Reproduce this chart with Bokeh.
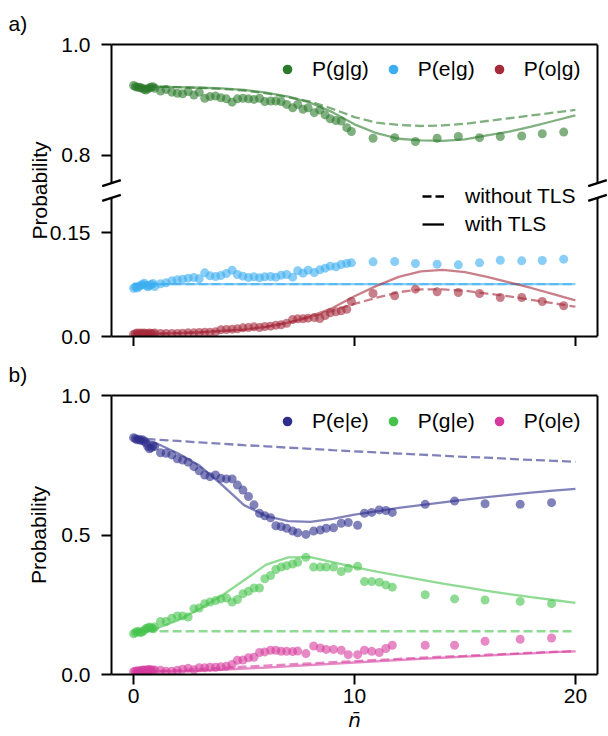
import numpy as np
from bokeh.plotting import figure
from bokeh.models import Range1d, LinearAxis, FixedTicker, Legend, LegendItem, Arrow
from bokeh.layouts import column
from bokeh.embed import file_html
from bokeh.resources import INLINE

FONT = "Liberation Sans"
FS = "21px"

# ---------------- data: panel a (prepared in g) ----------------
xa = [0.0, 0.08, 0.16, 0.24, 0.32, 0.40, 0.48, 0.56, 0.64, 0.72, 0.80, 0.88, 0.96,
      1.22, 1.47, 1.73, 1.98, 2.22, 2.47, 2.73, 2.97, 3.22, 3.46, 3.71, 3.95, 4.20, 4.46,
      4.70, 4.95, 5.20, 5.45, 5.70, 5.94, 6.20, 6.44, 6.68, 6.93, 7.20, 7.43, 7.67, 7.90,
      8.18, 8.43, 8.67, 8.90, 9.16, 9.40, 9.65, 9.86,
      10.84, 11.82, 12.76, 13.74, 14.70, 15.66, 16.60, 17.57, 18.50, 19.47]
p_gg = [0.926, 0.924, 0.923, 0.923, 0.922, 0.921, 0.919, 0.918, 0.920, 0.922, 0.923, 0.924, 0.921,
        0.916, 0.919, 0.914, 0.912, 0.911, 0.915, 0.909, 0.914, 0.903, 0.906, 0.907, 0.904, 0.902, 0.896,
        0.902, 0.903, 0.902, 0.901, 0.903, 0.897, 0.898, 0.898, 0.897, 0.892, 0.886, 0.892, 0.883, 0.886,
        0.877, 0.882, 0.873, 0.866, 0.863, 0.862, 0.850, 0.843,
        0.831, 0.832, 0.825, 0.831, 0.834, 0.832, 0.834, 0.835, 0.839, 0.842]
p_eg = [0.0697, 0.0717, 0.0700, 0.0720, 0.0736, 0.0750, 0.0770, 0.0740, 0.0717, 0.0730, 0.0750, 0.0765, 0.0720,
        0.0760, 0.0774, 0.0803, 0.0818, 0.0827, 0.0842, 0.0851, 0.0832, 0.0919, 0.0875, 0.0866, 0.0880, 0.0909, 0.0957,
        0.0895, 0.0871, 0.0851, 0.0861, 0.0847, 0.0861, 0.0866, 0.0856, 0.0885, 0.0895, 0.0856, 0.0948, 0.0914, 0.0957,
        0.0924, 0.0962, 0.0986, 0.1015, 0.1005, 0.1039, 0.1053, 0.1063,
        0.1077, 0.1082, 0.1053, 0.1044, 0.1034, 0.1063, 0.1101, 0.1092, 0.1097, 0.1116]
p_og = [0.003, 0.004, 0.005, 0.004, 0.005, 0.004, 0.005, 0.004, 0.004, 0.005, 0.004, 0.004, 0.005,
        0.0043, 0.0043, 0.0043, 0.0043, 0.0048, 0.0053, 0.0053, 0.0058, 0.0063, 0.0063, 0.0067, 0.0096, 0.0101, 0.0106,
        0.0111, 0.0125, 0.0130, 0.0139, 0.0130, 0.0144, 0.0149, 0.0164, 0.0168, 0.0192, 0.0245, 0.0255, 0.0255, 0.0265,
        0.0274, 0.0260, 0.0303, 0.0342, 0.0356, 0.0370, 0.0394, 0.0505,
        0.0620, 0.0587, 0.0683, 0.0645, 0.0635, 0.0620, 0.0563, 0.0563, 0.0505, 0.0443]

theory_x = [0, 1, 2, 3, 4, 5, 6, 7, 8, 9, 10, 11, 12, 13, 14, 15, 16, 17, 18, 19, 20]
gg_without = [0.924, 0.924, 0.923, 0.922, 0.920, 0.917, 0.912, 0.905, 0.897, 0.884, 0.869,
              0.859, 0.855, 0.853, 0.854, 0.857, 0.862, 0.867, 0.872, 0.877, 0.882]
gg_with = [0.924, 0.924, 0.923, 0.922, 0.921, 0.918, 0.913, 0.906, 0.895, 0.878, 0.856,
           0.840, 0.830, 0.827, 0.826, 0.829, 0.836, 0.843, 0.852, 0.862, 0.872]
eg_without = [0.0755, 0.0755, 0.0755, 0.0755, 0.0755, 0.0755, 0.0755, 0.0755, 0.0755, 0.0755, 0.0755,
              0.0755, 0.0755, 0.0755, 0.0755, 0.0755, 0.0755, 0.0755, 0.0755, 0.0755, 0.0755]
eg_with = [0.0755, 0.0755, 0.0755, 0.0755, 0.0755, 0.0755, 0.0755, 0.0755, 0.0755, 0.0755, 0.0755,
           0.0755, 0.0755, 0.0755, 0.0755, 0.0755, 0.0755, 0.0755, 0.0755, 0.0755, 0.0755]
og_without = [0.004, 0.004, 0.005, 0.006, 0.008, 0.010, 0.014, 0.020, 0.028, 0.037, 0.047,
              0.056, 0.064, 0.068, 0.068, 0.066, 0.062, 0.058, 0.053, 0.048, 0.043]
og_with = [0.004, 0.004, 0.005, 0.006, 0.008, 0.010, 0.014, 0.020, 0.029, 0.041, 0.058,
           0.073, 0.086, 0.094, 0.096, 0.093, 0.086, 0.078, 0.070, 0.061, 0.052]

# ---------------- data: panel b (prepared in e) ----------------
xb = [0.0, 0.08, 0.16, 0.24, 0.32, 0.40, 0.48, 0.56, 0.64, 0.72, 0.80, 0.88, 0.96,
      1.22, 1.47, 1.73, 1.98, 2.22, 2.47, 2.73, 2.97, 3.22, 3.46, 3.71, 3.95, 4.20, 4.46,
      4.70, 4.95, 5.20, 5.45, 5.70, 5.94, 6.20, 6.44, 6.68, 6.93, 7.20, 7.43, 7.80, 8.15,
      8.45, 8.72, 9.05, 9.40, 9.72, 10.14, 10.45, 10.78, 11.12, 11.42, 11.71,
      13.20, 14.53, 15.91, 17.50, 18.92]
p_ee = [0.849, 0.845, 0.841, 0.843, 0.839, 0.841, 0.837, 0.830, 0.818, 0.809, 0.813, 0.820, 0.817,
        0.795, 0.793, 0.787, 0.773, 0.769, 0.761, 0.745, 0.730, 0.715, 0.709, 0.715, 0.703, 0.701, 0.701,
        0.679, 0.661, 0.638, 0.608, 0.578, 0.569, 0.562, 0.533, 0.530, 0.524, 0.514, 0.508, 0.502, 0.514,
        0.518, 0.524, 0.526, 0.542, 0.545, 0.535, 0.578, 0.581, 0.590, 0.588, 0.581,
        0.610, 0.622, 0.612, 0.610, 0.616]
p_ge = [0.146, 0.150, 0.155, 0.152, 0.150, 0.153, 0.158, 0.165, 0.167, 0.170, 0.168, 0.164, 0.170,
        0.190, 0.190, 0.202, 0.210, 0.210, 0.206, 0.236, 0.238, 0.254, 0.260, 0.265, 0.271, 0.274, 0.260,
        0.269, 0.289, 0.298, 0.310, 0.310, 0.343, 0.355, 0.376, 0.385, 0.390, 0.396, 0.402, 0.420, 0.385,
        0.385, 0.385, 0.385, 0.369, 0.381, 0.388, 0.333, 0.333, 0.331, 0.321, 0.313,
        0.286, 0.271, 0.267, 0.262, 0.254]
p_oe = [0.010, 0.012, 0.013, 0.012, 0.014, 0.015, 0.016, 0.015, 0.017, 0.018, 0.016, 0.015, 0.016,
        0.015, 0.012, 0.012, 0.015, 0.019, 0.022, 0.017, 0.024, 0.024, 0.026, 0.026, 0.028, 0.030, 0.036,
        0.051, 0.052, 0.060, 0.062, 0.079, 0.081, 0.087, 0.087, 0.083, 0.083, 0.082, 0.084, 0.075, 0.102,
        0.095, 0.090, 0.090, 0.087, 0.071, 0.071, 0.087, 0.083, 0.079, 0.093, 0.105,
        0.105, 0.105, 0.119, 0.126, 0.131]

ee_without = [0.847, 0.842, 0.837, 0.832, 0.827, 0.822, 0.818, 0.813, 0.809, 0.804, 0.800,
              0.796, 0.792, 0.788, 0.784, 0.780, 0.777, 0.773, 0.769, 0.766, 0.762]
ee_with = [0.847, 0.830, 0.793, 0.748, 0.680, 0.607, 0.568, 0.550, 0.547, 0.558, 0.573,
           0.585, 0.597, 0.607, 0.617, 0.627, 0.636, 0.644, 0.652, 0.659, 0.665]
ge_without = [0.155, 0.155, 0.155, 0.155, 0.155, 0.155, 0.155, 0.155, 0.155, 0.155, 0.155,
              0.155, 0.155, 0.155, 0.155, 0.155, 0.155, 0.155, 0.155, 0.155, 0.155]
ge_with = [0.150, 0.164, 0.194, 0.236, 0.283, 0.338, 0.394, 0.420, 0.421, 0.403, 0.385,
           0.369, 0.354, 0.340, 0.326, 0.313, 0.300, 0.288, 0.277, 0.267, 0.257]
oe_without = [0.010, 0.012, 0.015, 0.019, 0.024, 0.028, 0.032, 0.036, 0.040, 0.044, 0.048,
              0.052, 0.056, 0.060, 0.064, 0.067, 0.071, 0.074, 0.078, 0.081, 0.084]
oe_with = [0.010, 0.011, 0.012, 0.014, 0.017, 0.021, 0.025, 0.029, 0.034, 0.038, 0.043,
           0.047, 0.052, 0.056, 0.060, 0.064, 0.068, 0.072, 0.076, 0.080, 0.083]

x_ticks = [0, 10, 20]
labels_a = ["P(g|g)", "P(e|g)", "P(o|g)"]
labels_b = ["P(e|e)", "P(g|e)", "P(o|e)"]
labels_tls = ["without TLS", "with TLS"]

# ---------------- styles / geometry ----------------
C_GG, C_EG, C_OG = "#2b7a2b", "#3aaef0", "#a52a3a"
C_EE, C_GE, C_OE = "#2e2e8c", "#46c34c", "#d63a9c"
PT_SIZE = 9
PT_ALPHA = 0.6
LW = 2.3
DASH = "9 4"
X_LO, X_HI = -1.0, 21.0
SPINE_W = 486                 # pixel width of the boxed area
PX_PER_X = SPINE_W / (X_HI - X_LO)
LEFT_SPINE = 111              # page x of the left spine
EXT_L, EXT_R = 10, 10         # frame reaches past the spines so the break marks are not clipped
FRAME_W = SPINE_W + EXT_L + EXT_R
BORDER_L = LEFT_SPINE - EXT_L
BORDER_R = 608 - BORDER_L - FRAME_W


def style_axis(ax):
    ax.axis_line_width = 2
    ax.axis_line_color = "black"
    ax.major_tick_line_width = 2
    ax.major_tick_line_color = "black"
    ax.major_tick_out = 10
    ax.major_tick_in = 0
    ax.minor_tick_out = 0
    ax.minor_tick_in = 0
    ax.major_label_text_font = FONT
    ax.major_label_text_font_size = FS
    ax.major_label_text_color = "black"
    ax.axis_label_text_font = FONT
    ax.axis_label_text_font_size = FS
    ax.axis_label_text_font_style = "normal"
    ax.axis_label_text_color = "black"


def boxed_fig(frame_h, top, bottom, y_range, tag, title_standoff):
    p = figure(frame_width=FRAME_W, frame_height=frame_h,
               min_border_left=BORDER_L, min_border_right=BORDER_R,
               min_border_top=top, min_border_bottom=bottom,
               x_range=Range1d(X_LO - EXT_L / PX_PER_X, X_HI + EXT_R / PX_PER_X), y_range=y_range,
               x_axis_location=None, y_axis_location=None,
               output_backend="svg", toolbar_location=None)
    for g in p.grid:
        g.visible = False
    p.outline_line_color = None
    p.background_fill_color = "white"
    p.border_fill_color = "white"
    p.title.text = tag
    p.title.align = "left"
    p.title.offset = 8 - BORDER_L
    p.title.standoff = title_standoff
    p.title.text_font = FONT
    p.title.text_font_size = FS
    p.title.text_font_style = "normal"
    p.title.text_color = "black"
    top_ax = LinearAxis(ticker=FixedTicker(ticks=[]), bounds=(X_LO, X_HI))
    style_axis(top_ax)
    top_ax.major_tick_out = 0
    top_ax.major_label_standoff = 0
    p.add_layout(top_ax, "above")
    return p


def left_axis(p, ticks, labels, label_standoff):
    ax = LinearAxis(ticker=FixedTicker(ticks=ticks),
                    major_label_overrides={t: s for t, s in zip(ticks, labels)})
    style_axis(ax)
    ax.axis_line_color = None
    ax.major_tick_out = 0
    ax.major_tick_in = EXT_L     # ticks run from the frame edge to the spine
    ax.major_label_standoff = 11
    ax.axis_label = "Probability"
    ax.axis_label_standoff = label_standoff
    p.add_layout(ax, "left")


def spine(p, y0, y1, rng="default"):
    for xs in (X_LO, X_HI):
        p.add_layout(Arrow(x_start=xs, y_start=y0, x_end=xs, y_end=y1, end=None,
                           line_width=2, line_color="black", y_range_name=rng))


def dot_legend(p, labels, colors, loc):
    items = []
    for lab, c in zip(labels, colors):
        r = p.scatter(np.array([np.nan]), np.array([np.nan]), size=PT_SIZE, fill_color=c, line_color=None)
        items.append(LegendItem(label=lab, renderers=[r]))
    leg = Legend(items=items, orientation="horizontal", location=loc,
                 glyph_width=24, glyph_height=24, label_standoff=13, spacing=12,
                 padding=0, margin=0, border_line_color=None, background_fill_alpha=0,
                 label_text_font=FONT, label_text_font_size=FS, label_text_color="black")
    p.add_layout(leg)


# ================= panel a: broken y axis =================
SUB_H = 138.6
GAP = 14.8
FRAME_H_A = int(round(2 * SUB_H + GAP))
TOP_LO, TOP_HI = 0.75, 1.0
LOW_LO, LOW_HI = 0.0, 0.2
top_scale = SUB_H / (TOP_HI - TOP_LO)
low_scale = SUB_H / (LOW_HI - LOW_LO)
A_TOP, A_BOTTOM = 43, 10
ya = Range1d(TOP_HI - FRAME_H_A / top_scale, TOP_HI)
pa = boxed_fig(FRAME_H_A, A_TOP, A_BOTTOM, ya, "a)", 19)
pa.extra_y_ranges = {"low": Range1d(LOW_LO, LOW_LO + FRAME_H_A / low_scale)}


def low_to_top(v):
    return ya.start + (v - LOW_LO) * low_scale / top_scale


left_axis(pa, [low_to_top(0.0), low_to_top(0.15), 0.8, 1.0], ["0.0", "0.15", "0.8", "1.0"], -4)

xax_a = LinearAxis(ticker=FixedTicker(ticks=x_ticks), bounds=(X_LO, X_HI),
                   major_label_overrides={0: "", 10: "", 20: ""})
style_axis(xax_a)
xax_a.major_label_text_font_size = "0px"
xax_a.major_label_standoff = 0
pa.add_layout(xax_a, "below")

spine(pa, TOP_LO, TOP_HI)
spine(pa, LOW_LO, LOW_HI, "low")
bx = 9.3 / PX_PER_X
for xs in (X_LO, X_HI):
    pa.add_layout(Arrow(x_start=xs - bx, y_start=TOP_LO - 3 / top_scale, x_end=xs + bx,
                        y_end=TOP_LO + 3 / top_scale, end=None, line_width=2.5, line_color="black"))
    pa.add_layout(Arrow(x_start=xs - bx, y_start=LOW_HI - 3 / low_scale, x_end=xs + bx,
                        y_end=LOW_HI + 3 / low_scale, end=None, line_width=2.5, line_color="black",
                        y_range_name="low"))

pa.line(theory_x, gg_without, color=C_GG, alpha=PT_ALPHA, line_width=LW, line_dash=DASH)
pa.line(theory_x, gg_with, color=C_GG, alpha=PT_ALPHA, line_width=LW)
pa.line(theory_x, eg_without, color=C_EG, alpha=PT_ALPHA, line_width=LW, line_dash=DASH, y_range_name="low")
pa.line(theory_x, eg_with, color=C_EG, alpha=PT_ALPHA, line_width=LW, y_range_name="low")
pa.line(theory_x, og_without, color=C_OG, alpha=PT_ALPHA, line_width=LW, line_dash=DASH, y_range_name="low")
pa.line(theory_x, og_with, color=C_OG, alpha=PT_ALPHA, line_width=LW, y_range_name="low")
pa.scatter(xa, p_gg, size=PT_SIZE, fill_color=C_GG, fill_alpha=PT_ALPHA, line_color=None)
pa.scatter(xa, p_eg, size=PT_SIZE, fill_color=C_EG, fill_alpha=PT_ALPHA, line_color=None, y_range_name="low")
pa.scatter(xa, p_og, size=PT_SIZE, fill_color=C_OG, fill_alpha=PT_ALPHA, line_color=None, y_range_name="low")

dot_legend(pa, labels_a, [C_GG, C_EG, C_OG], (164 + EXT_L, 255))

r_wo = pa.line(np.array([np.nan]), np.array([np.nan]), color="black", line_width=LW, line_dash=DASH)
r_w = pa.line(np.array([np.nan]), np.array([np.nan]), color="black", line_width=LW)
leg2 = Legend(items=[LegendItem(label=labels_tls[0], renderers=[r_wo]),
                     LegendItem(label=labels_tls[1], renderers=[r_w])],
              orientation="vertical", location=(311 + EXT_L, 100),
              glyph_width=22, glyph_height=24, label_standoff=21, spacing=4,
              padding=0, margin=0, border_line_color=None, background_fill_alpha=0,
              label_text_font=FONT, label_text_font_size=FS, label_text_color="black")
pa.add_layout(leg2)

# ================= panel b =================
FRAME_H_B = 279
B_TOP = 394 - (A_TOP + FRAME_H_A + A_BOTTOM)
pb = boxed_fig(FRAME_H_B, B_TOP, 736 - 394 - FRAME_H_B, Range1d(0, 1.0), "b)", 20)
left_axis(pb, [0, 0.5, 1.0], ["0.0", "0.5", "1.0"], 8)
spine(pb, 0, 1.0)

xb_ax = LinearAxis(ticker=FixedTicker(ticks=x_ticks), bounds=(X_LO, X_HI))
style_axis(xb_ax)
xb_ax.major_label_standoff = 4
xb_ax.axis_label = "n\u0304"
xb_ax.axis_label_text_font = "DejaVu Sans"
xb_ax.axis_label_text_font_size = "20px"
xb_ax.axis_label_text_font_style = "italic"
xb_ax.axis_label_standoff = 2
pb.add_layout(xb_ax, "below")

pb.line(theory_x, ee_without, color=C_EE, alpha=PT_ALPHA, line_width=LW, line_dash=DASH)
pb.line(theory_x, ee_with, color=C_EE, alpha=PT_ALPHA, line_width=LW)
pb.line(theory_x, ge_without, color=C_GE, alpha=PT_ALPHA, line_width=LW, line_dash=DASH)
pb.line(theory_x, ge_with, color=C_GE, alpha=PT_ALPHA, line_width=LW)
pb.line(theory_x, oe_without, color=C_OE, alpha=PT_ALPHA, line_width=LW, line_dash=DASH)
pb.line(theory_x, oe_with, color=C_OE, alpha=PT_ALPHA, line_width=LW)
pb.scatter(xb, p_ee, size=PT_SIZE, fill_color=C_EE, fill_alpha=PT_ALPHA, line_color=None)
pb.scatter(xb, p_ge, size=PT_SIZE, fill_color=C_GE, fill_alpha=PT_ALPHA, line_color=None)
pb.scatter(xb, p_oe, size=PT_SIZE, fill_color=C_OE, fill_alpha=PT_ALPHA, line_color=None)

dot_legend(pb, labels_b, [C_EE, C_GE, C_OE], (164 + EXT_L, 241))

layout = column(pa, pb, spacing=0)
open("out.html", "w").write(file_html(layout, INLINE))
